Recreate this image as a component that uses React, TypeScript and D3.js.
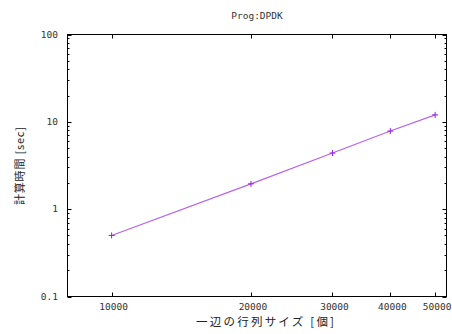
import React from "react";
import * as d3 from "d3";

const sizes = [10000, 20000, 30000, 40000, 50000];
const times = [0.5, 1.95, 4.39, 7.84, 12.0];
const xTickValues = [10000, 20000, 30000, 40000, 50000];
const yTickValues = [0.1, 1, 10, 100];
const yTickLabels = ["0.1", "1", "10", "100"];
const title = "Prog:DPDK";
const xLabel = "一辺の行列サイズ [個]";
const yLabel = "計算時間 [sec]";

const W = 452;
const H = 334;
const L = 67.5, R = 446.5, T = 34.5, B = 296.5;
const lineColor = "#b862ec";
const markColor = "#9a1ee0";
const font = "'Noto Sans CJK JP', 'DejaVu Sans', sans-serif";
const mono = "'DejaVu Sans Mono', 'Liberation Mono', monospace";

export default function App() {
  const x = d3.scaleLog().domain([8030, 52900]).range([L, R]);
  const y = d3.scaleLog().domain([0.1, 100]).range([B, T]);
  const line = d3
    .line<number>()
    .x((_, i) => x(sizes[i]))
    .y((d) => y(d));

  const minor: number[] = [];
  for (const dec of [0.1, 1, 10]) {
    for (let k = 2; k <= 9; k++) minor.push(dec * k);
  }

  return (
    <svg
      width={W}
      height={H}
      style={{ position: "absolute", left: 0, top: 0, background: "#fff" }}
      fontFamily={font}
    >
      <rect x={0} y={0} width={W} height={H} fill="#fff" />
      {/* y ticks */}
      {yTickValues.map((v, i) => (
        <g key={"y" + i}>
          <line x1={L} x2={L + 4} y1={Math.round(y(v)) + 0.5} y2={Math.round(y(v)) + 0.5} stroke="#000" />
          <line x1={R} x2={R - 4} y1={Math.round(y(v)) + 0.5} y2={Math.round(y(v)) + 0.5} stroke="#000" />
          <text x={58} y={y(v)} dy="0.35em" textAnchor="end" fontSize={9.5} fontFamily={mono} fill="#333">
            {yTickLabels[i]}
          </text>
        </g>
      ))}
      {minor.map((v, i) => (
        <g key={"m" + i}>
          <line x1={L} x2={L + 2} y1={Math.round(y(v)) + 0.5} y2={Math.round(y(v)) + 0.5} stroke="#000" />
          <line x1={R} x2={R - 2} y1={Math.round(y(v)) + 0.5} y2={Math.round(y(v)) + 0.5} stroke="#000" />
        </g>
      ))}
      {/* x ticks */}
      {xTickValues.map((v, i) => (
        <g key={"x" + i}>
          <line x1={Math.round(x(v)) + 0.5} x2={Math.round(x(v)) + 0.5} y1={B} y2={B - 4} stroke="#000" />
          <line x1={Math.round(x(v)) + 0.5} x2={Math.round(x(v)) + 0.5} y1={T} y2={T + 4} stroke="#000" />
          <text x={x(v) + 2} y={310} textAnchor="middle" fontSize={9.5} fontFamily={mono} fill="#333">
            {d3.format("d")(v)}
          </text>
        </g>
      ))}
      <rect x={L} y={T} width={R - L} height={B - T} fill="none" stroke="#000" />
      {/* data */}
      <path d={line(times) || ""} fill="none" stroke={lineColor} strokeWidth={1.2} />
      {times.map((t, i) => (
        <g key={"p" + i} stroke={markColor} strokeWidth={1}>
          <line x1={x(sizes[i]) - 3} x2={x(sizes[i]) + 3} y1={y(t)} y2={y(t)} />
          <line x1={x(sizes[i])} x2={x(sizes[i])} y1={y(t) - 3} y2={y(t) + 3} />
        </g>
      ))}
      <text x={(L + R) / 2} y={19} textAnchor="middle" fontSize={9.5} fontFamily={mono} fill="#333">
        {title}
      </text>
      <text
        x={265}
        y={326}
        textAnchor="middle"
        fontSize={11.5}
        fill="#222"
        textLength={138}
        lengthAdjust="spacing"
      >
        {xLabel}
      </text>
      <text
        transform={`translate(24,166) rotate(-90)`}
        textAnchor="middle"
        fontSize={11}
        fill="#222"
        textLength={78}
        lengthAdjust="spacing"
      >
        {yLabel}
      </text>
    </svg>
  );
}
